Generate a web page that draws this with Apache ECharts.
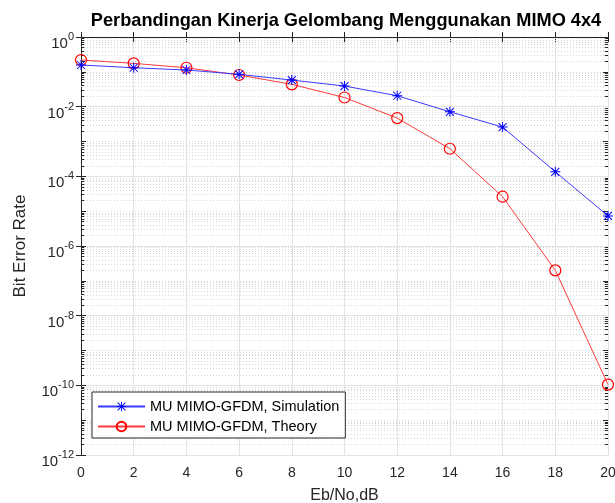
<html>
  <head>
    <meta charset="utf-8" />
    <script src="https://cdn.jsdelivr.net/npm/echarts@6/dist/echarts.min.js"></script>
    <style>
      body {
        margin: 0;
        background: #fff;
      }

      #main {
        width: 615px;
        height: 503px;
      }
    </style>
  </head>
  <body>
    <div id="main"></div>
    <script>
      // Eb/No in dB
      const ebno = [0, 2, 4, 6, 8, 10, 12, 14, 16, 18, 20];
      // BER
      const berSimulation = [0.157, 0.131, 0.113, 0.0848, 0.058, 0.0391, 0.0206, 0.00713, 0.00259, 1.35e-4, 7.3e-6];
      const berTheory = [0.218, 0.175, 0.131, 0.081, 0.0437, 0.0183, 0.0047, 6.2e-4, 2.6e-5, 2.0e-7, 1.05e-10];

      const titleText = 'Perbandingan Kinerja Gelombang Menggunakan MIMO 4x4';
      const xName = 'Eb/No,dB';
      const yName = 'Bit Error Rate';
      const seriesNames = ['MU MIMO-GFDM, Simulation', 'MU MIMO-GFDM, Theory'];

      const FONT = 'Liberation Sans, Arial, sans-serif';
      const AXIS = '#262626';

      // asterisk marker like matlab '*'
      const STAR =
        'path://M9 0L11 0L11 20L9 20Z M0 9L20 9L20 11L0 11Z ' +
        'M1.3 2.7L2.7 1.3L18.7 17.3L17.3 18.7Z M17.3 1.3L18.7 2.7L2.7 18.7L1.3 17.3Z';

      // minor grid + minor ticks of the log axis, drawn in log10 space
      const minorGrid = [];
      const minorTicks = [];
      const tickLen = 0.12; // in x units, ~3px
      for (let k = -12; k < 0; k++) {
        for (let m = 1; m <= 9; m++) {
          const lv = Math.log10(m) + k;
          if (m === 1 && k % 2 === 0) continue;
          minorGrid.push({ yAxis: lv });
          if (m === 1) continue;
          minorTicks.push([{ coord: [0, lv] }, { coord: [tickLen, lv] }]);
          minorTicks.push([{ coord: [20 - tickLen, lv] }, { coord: [20, lv] }]);
        }
      }
      // odd decades get a full size tick
      for (let k = -11; k < 0; k += 2) {
        minorTicks.push([{ coord: [0, k] }, { coord: [0.19, k] }]);
        minorTicks.push([{ coord: [20 - 0.19, k] }, { coord: [20, k] }]);
      }

      const toPairs = (ys) => ebno.map((x, i) => [x, ys[i]]);

      const chart = echarts.init(document.getElementById('main'));

      chart.setOption({
        animation: false,
        textStyle: { fontFamily: FONT },
        title: {
          text: titleText,
          left: 341,
          textAlign: 'center',
          top: 7,
          textStyle: { fontSize: 18.2, fontWeight: 'bold', color: '#000', fontFamily: FONT },
        },
        grid: { left: 81, right: 7, top: 37, bottom: 48, outerBoundsMode: 'none', containLabel: false },
        legend: {
          left: 92,
          top: 392,
          z: 6,
          orient: 'vertical',
          backgroundColor: '#fff',
          borderColor: AXIS,
          borderWidth: 1,
          padding: [7, 6, 4, 5],
          itemGap: 5,
          itemWidth: 47,
          itemHeight: 12,
          textStyle: { fontSize: 14.5, lineHeight: 15, color: '#000', fontFamily: FONT },
          data: seriesNames,
        },
        xAxis: [
          {
            type: 'value',
            min: 0,
            max: 20,
            interval: 2,
            name: xName,
            nameLocation: 'middle',
            nameGap: 33,
            nameTextStyle: { fontSize: 16, color: AXIS },
            axisLine: { lineStyle: { color: AXIS } },
            axisTick: { inside: true, length: 5, lineStyle: { color: AXIS } },
            axisLabel: { fontSize: 14, color: AXIS, margin: 11 },
            splitLine: { lineStyle: { color: '#e3e3e3' } },
          },
          {
            type: 'value',
            position: 'top',
            min: 0,
            max: 20,
            interval: 2,
            axisLine: { lineStyle: { color: AXIS } },
            axisTick: { inside: true, length: 5, lineStyle: { color: AXIS } },
            axisLabel: { show: false },
            splitLine: { show: false },
          },
        ],
        yAxis: [
          {
            type: 'log',
            logBase: 10,
            min: 1e-12,
            max: 1,
            interval: 2,
            name: yName,
            nameLocation: 'middle',
            nameGap: 52,
            nameTextStyle: { fontSize: 17, color: AXIS },
            axisLine: { show: true, lineStyle: { color: AXIS } },
            axisTick: { inside: true, length: 5, lineStyle: { color: AXIS } },
            axisLabel: {
              margin: 7,
              padding: [9, 0, 0, 0],
              formatter: (v) => '{b|10}{s|' + Math.round(Math.log10(v)) + '}',
              rich: {
                b: { fontSize: 15, color: AXIS, lineHeight: 20, verticalAlign: 'bottom' },
                s: { fontSize: 11, color: AXIS, lineHeight: 20, verticalAlign: 'top' },
              },
            },
            splitLine: { lineStyle: { color: '#e3e3e3' } },
          },
          {
            type: 'log',
            logBase: 10,
            position: 'right',
            min: 1e-12,
            max: 1,
            interval: 2,
            axisLine: { show: true, lineStyle: { color: AXIS } },
            axisTick: { inside: true, length: 5, lineStyle: { color: AXIS } },
            axisLabel: { show: false },
            splitLine: { show: false },
          },
          {
            // hidden linear twin (log10 units) for the minor grid
            type: 'value',
            min: -12,
            max: 0,
            show: false,
          },
        ],
        series: [
          {
            name: 'minor-grid',
            type: 'line',
            yAxisIndex: 2,
            data: [],
            silent: true,
            z: 1,
            markLine: {
              silent: true,
              z: 1,
              symbol: ['none', 'none'],
              label: { show: false },
              emphasis: { disabled: true },
              lineStyle: { type: [1, 2], color: '#d6d6d6', width: 1 },
              data: minorGrid,
            },
          },
          {
            name: 'minor-ticks',
            type: 'line',
            yAxisIndex: 2,
            data: [],
            silent: true,
            z: 1,
            markLine: {
              silent: true,
              z: 1,
              symbol: ['none', 'none'],
              label: { show: false },
              emphasis: { disabled: true },
              lineStyle: { type: 'solid', color: AXIS, width: 1 },
              data: minorTicks,
            },
          },
          {
            name: seriesNames[0],
            type: 'line',
            data: toPairs(berSimulation),
            symbol: STAR,
            symbolSize: 10,
            itemStyle: { color: '#0000ff' },
            lineStyle: { color: '#3a3aff', width: 1 },
            z: 3,
          },
          {
            name: seriesNames[1],
            type: 'line',
            data: toPairs(berTheory),
            symbol: 'circle',
            symbolSize: 11,
            itemStyle: { color: 'none', borderColor: '#ff0000', borderWidth: 1.2 },
            lineStyle: { color: '#ff3b3b', width: 1 },
            z: 2,
          },
        ],
      });
    </script>
  </body>
</html>
